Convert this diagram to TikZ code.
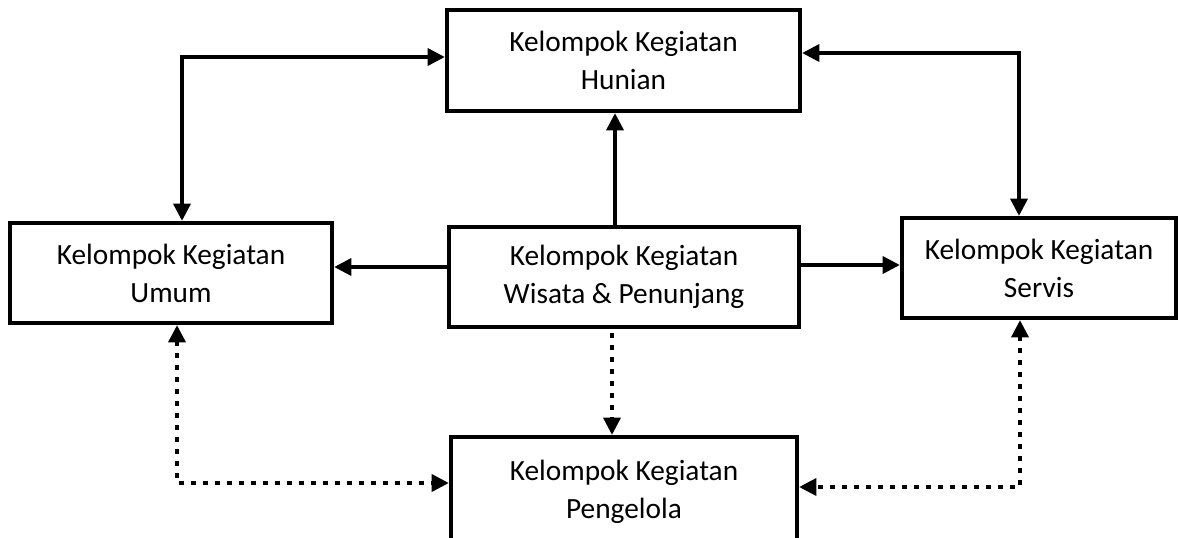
\documentclass[tikz,border=0pt]{standalone}
\usepackage{fontspec}
\setmainfont{Carlito}
\usetikzlibrary{arrows.meta}
\begin{document}
\begin{tikzpicture}[x=0.75pt,y=-0.75pt,
  box/.style={draw,line width=3pt,rectangle,align=center,inner sep=0pt,
    font=\fontsize{22pt}{28.5pt}\selectfont},
  conn/.style={line width=3.5pt},
  tip/.style={-{Triangle[length=13pt,width=12.5pt]}},
  bitip/.style={{Triangle[length=13pt,width=12.5pt]}-{Triangle[length=13pt,width=12.5pt]}},
  dots/.style={line width=3.7pt,dash pattern=on 3.7pt off 5.3pt}]
\useasboundingbox (0,0) rectangle (1178,537);
\clip (0,0) rectangle (1178,537);
\node[box,minimum width=264.75pt,minimum height=75.75pt] (hunian) at (623.5,60.5) {Kelompok Kegiatan\\Hunian};
\node[box,minimum width=241.5pt,minimum height=75pt] (umum) at (171,273) {Kelompok Kegiatan\\Umum};
\node[box,minimum width=262.5pt,minimum height=75pt] (wisata) at (624,277) {Kelompok Kegiatan\\Wisata \& Penunjang};
\node[box,minimum width=205.5pt,minimum height=75pt] (servis) at (1039,268) {Kelompok Kegiatan\\Servis};
\node[box,minimum width=259.5pt,minimum height=82.5pt] (pengelola) at (624,492) {Kelompok Kegiatan\\Pengelola};
% solid connectors
\draw[conn,bitip] (umum.north -| 182,0) |- (hunian.west |- 0,57);
\draw[conn,bitip] (hunian.east |- 0,53) -| (servis.north -| 1019,0);
\draw[conn,tip] (wisata.north -| 615,0) -- (hunian.south -| 615,0);
\draw[conn,tip] (wisata.west |- 0,267) -- (umum.east |- 0,267);
\draw[conn,tip] (wisata.east |- 0,265) -- (servis.west |- 0,265);
% dotted connectors
\draw[dots,tip,shorten <=3pt] (wisata.south -| 612,0) -- (pengelola.north -| 612,0);
\draw[dots,bitip] (umum.south -| 177,0) |- (pengelola.west |- 0,483);
\draw[dots,bitip] (servis.south -| 1020,0) |- (pengelola.east |- 0,487);
\end{tikzpicture}
\end{document}
